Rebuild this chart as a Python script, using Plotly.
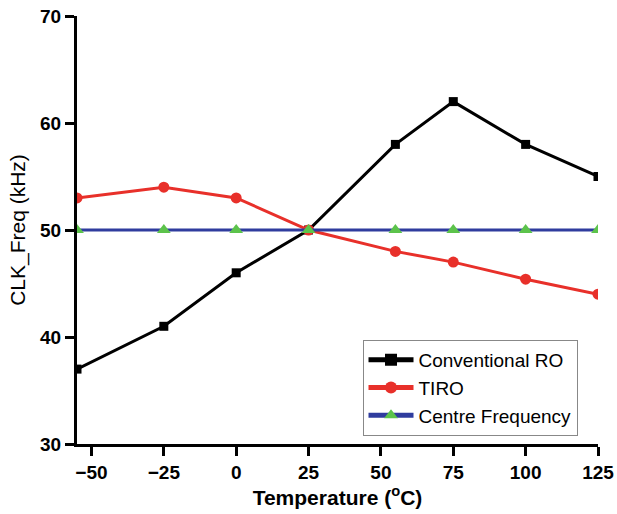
import plotly.graph_objects as go

# Temperature sweep points (°C)
temperature = [-55, -25, 0, 25, 55, 75, 100, 125]

# Clock frequency in kHz for each oscillator
conventional_ro = [37, 41, 46, 50, 58, 62, 58, 55]
tiro = [53, 54, 53, 50, 48, 47, 45.4, 44]
centre_freq = [50, 50, 50, 50, 50, 50, 50, 50]

x_ticks = [-50, -25, 0, 25, 50, 75, 100, 125]
y_ticks = [30, 40, 50, 60, 70]

FONT = "Liberation Sans, Arial, sans-serif"

fig = go.Figure()

fig.add_trace(go.Scatter(
    x=temperature, y=conventional_ro, name="Conventional RO",
    mode="lines+markers",
    line=dict(color="black", width=3),
    marker=dict(symbol="square", size=9, color="black"),
))
fig.add_trace(go.Scatter(
    x=temperature, y=tiro, name="TIRO",
    mode="lines+markers",
    line=dict(color="#e8302a", width=3),
    marker=dict(symbol="circle", size=11, color="#e8302a"),
))
fig.add_trace(go.Scatter(
    x=temperature, y=centre_freq, name="Centre Frequency",
    mode="lines+markers",
    line=dict(color="#2f3c9e", width=3),
    marker=dict(symbol="triangle-up", size=12, color="#5cc34b"),
))

axis_common = dict(
    showline=True, linecolor="black", linewidth=3,
    ticks="outside", ticklen=9, tickwidth=3, tickcolor="black",
    showgrid=False, zeroline=False, automargin=False,
    tickfont=dict(family=FONT, size=19, color="black", weight="bold"),
)

fig.update_xaxes(
    range=[-55, 125], tickvals=x_ticks,
    title=dict(text="Temperature (<sup>o</sup>C)", standoff=6,
               font=dict(family=FONT, size=21, color="black", weight="bold")),
    **axis_common,
)
fig.update_yaxes(
    range=[30, 70], tickvals=y_ticks,
    title=dict(text="CLK_Freq (kHz)", standoff=9,
               font=dict(family=FONT, size=21, color="black")),
    **axis_common,
)

fig.update_layout(
    width=617, height=514,
    margin=dict(l=77, r=19, t=16, b=70),
    plot_bgcolor="white", paper_bgcolor="white",
    showlegend=True,
    legend=dict(
        x=0.548, y=0.243, xanchor="left", yanchor="top",
        bgcolor="white", bordercolor="#888888", borderwidth=1,
        font=dict(family=FONT, size=19, color="black"),
        tracegroupgap=0, itemsizing="constant", itemwidth=45,
    ),
)

fig.write_html("out.html")
